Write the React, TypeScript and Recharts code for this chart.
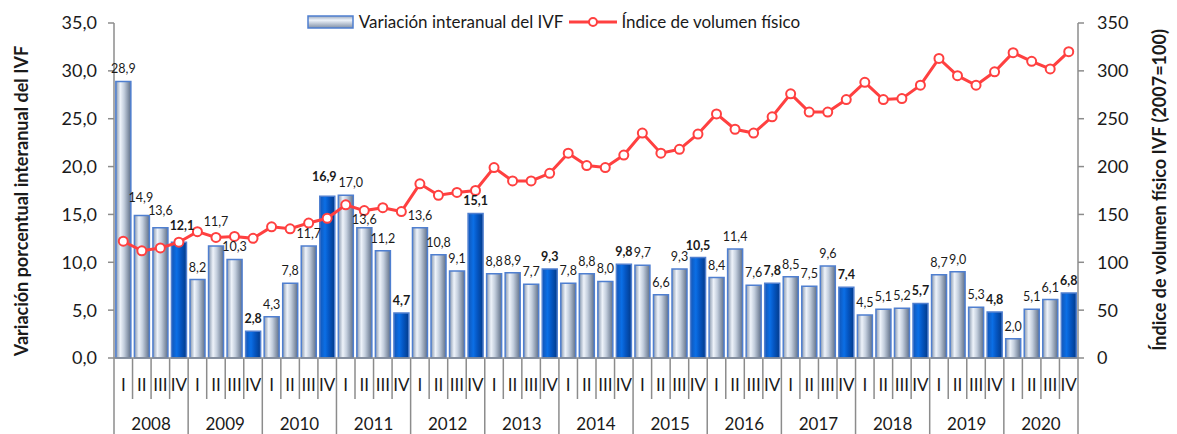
import { ComposedChart, Bar, Line, XAxis, YAxis, Cell, LabelList } from 'recharts'

const years = ['2008', '2009', '2010', '2011', '2012', '2013', '2014', '2015', '2016', '2017', '2018', '2019', '2020']
const quarters = ['I', 'II', 'III', 'IV']

// variación interanual (%)
const variacion = [
  28.9, 14.9, 13.6, 12.1,
  8.2, 11.7, 10.3, 2.8,
  4.3, 7.8, 11.7, 16.9,
  17.0, 13.6, 11.2, 4.7,
  13.6, 10.8, 9.1, 15.1,
  8.8, 8.9, 7.7, 9.3,
  7.8, 8.8, 8.0, 9.8,
  9.7, 6.6, 9.3, 10.5,
  8.4, 11.4, 7.6, 7.8,
  8.5, 7.5, 9.6, 7.4,
  4.5, 5.1, 5.2, 5.7,
  8.7, 9.0, 5.3, 4.8,
  2.0, 5.1, 6.1, 6.8,
]

// índice de volumen físico (2007=100)
const indice = [
  122, 112, 115, 121,
  132, 126, 127, 125,
  137, 135, 141, 146,
  160, 154, 157, 153,
  182, 170, 173, 175,
  199, 185, 185, 193,
  214, 201, 199, 212,
  235, 214, 218, 234,
  255, 239, 235, 252,
  276, 257, 257, 270,
  288, 270, 271, 285,
  313, 295, 285, 299,
  319, 310, 302, 320,
]

const leftTicks = [0, 5, 10, 15, 20, 25, 30, 35]
const rightTicks = [0, 50, 100, 150, 200, 250, 300, 350]

const W = 1177
const H = 434
const TOP = 23
const LEFT_W = 114
const RIGHT_W = 99
const XAXIS_H = 76
const PLOT_BOTTOM = H - XAXIS_H
const BAND = (W - LEFT_W - RIGHT_W) / variacion.length
const FONT = 'Lato, "Open Sans", sans-serif'
const TEXT = '#1a1a1a'
const AXIS = '#8c8c8c'

// small label nudges where labels would collide with neighbours or the line
const labelNudge: Record<number, [number, number]> = {
  1: [-1, -5], 2: [0, -5], 3: [3, -4], 5: [0, -12], 11: [-3, -7], 12: [5, 0], 13: [0, 4],
}

const data = variacion.map((v, i) => ({
  key: `${years[Math.floor(i / 4)]}-${quarters[i % 4]}`,
  variacion: v,
  indice: indice[i],
}))

const fmt = (v: number) => v.toFixed(1).replace('.', ',')

function QuarterTick(props: any) {
  const { x, payload } = props
  const [year, q] = String(payload.value).split('-')
  const left = x - BAND / 2
  const last = payload.value === data[data.length - 1].key
  return (
    <g>
      <line x1={left} x2={left} y1={PLOT_BOTTOM} y2={q === 'I' ? H : 399} stroke={AXIS} strokeWidth={1.5} />
      {last && <line x1={x + BAND / 2} x2={x + BAND / 2} y1={PLOT_BOTTOM} y2={H} stroke={AXIS} strokeWidth={1.5} />}
      <text x={x} y={391} textAnchor="middle" fontSize={17} fontFamily={FONT} fill={TEXT}>{q}</text>
      {q === 'II' && (
        <text x={x + BAND / 2} y={430} textAnchor="middle" fontSize={17} fontFamily={FONT} fill={TEXT}>{year}</text>
      )}
    </g>
  )
}

function BarLabel(props: any) {
  const { x, y, width, value, index } = props
  const bold = index % 4 === 3
  const [dx, dy] = labelNudge[index] || [0, 0]
  return (
    <text x={x + width / 2 + dx} y={y - 8 + dy} textAnchor="middle" fontSize={12.5} fontWeight={bold ? 700 : 400}
      fontFamily={FONT} fill={TEXT}>
      {fmt(value)}
    </text>
  )
}

function Legend() {
  return (
    <div style={{ position: 'absolute', left: 0, top: 11, width: W, display: 'flex', justifyContent: 'center',
      alignItems: 'center', fontFamily: FONT, fontSize: 17, color: TEXT, paddingRight: 70, boxSizing: 'border-box' }}>
      <svg width={48} height={20} style={{ marginRight: 4 }}>
        <defs>
          <linearGradient id="legSilver" x1="0" y1="0" x2="0" y2="1">
            <stop offset="0" stopColor="#9aa9bd" />
            <stop offset="0.35" stopColor="#eef3fa" />
            <stop offset="1" stopColor="#7f8fa6" />
          </linearGradient>
        </defs>
        <rect x={1} y={4} width={45} height={12} fill="url(#legSilver)" stroke="#4f7fd0" strokeWidth={1.5} />
      </svg>
      <span>Variación interanual del IVF</span>
      <svg width={50} height={20} style={{ margin: '0 3px 0 5px' }}>
        <line x1={1} x2={49} y1={10} y2={10} stroke="#ff4040" strokeWidth={3} />
        <circle cx={25} cy={10} r={4} fill="#fff" stroke="#ff4040" strokeWidth={2} />
      </svg>
      <span>Índice de volumen físico</span>
    </div>
  )
}

export default function App() {
  return (
    <div style={{ position: 'absolute', left: 0, top: 0, width: W, height: H, background: '#fff' }}>
      <ComposedChart width={W} height={H} data={data} barCategoryGap="10%"
        margin={{ top: TOP, right: 0, left: 0, bottom: 0 }}>
        <defs>
          <linearGradient id="silver" x1="0" y1="0" x2="1" y2="0">
            <stop offset="0" stopColor="#8797ad" />
            <stop offset="0.3" stopColor="#eef3fa" />
            <stop offset="0.55" stopColor="#c3cedd" />
            <stop offset="1" stopColor="#5f6f87" />
          </linearGradient>
          <linearGradient id="blue" x1="0" y1="0" x2="1" y2="0">
            <stop offset="0" stopColor="#1256b8" />
            <stop offset="0.35" stopColor="#0b6fe6" />
            <stop offset="0.6" stopColor="#0557c4" />
            <stop offset="1" stopColor="#023a8a" />
          </linearGradient>
        </defs>
        <XAxis dataKey="key" interval={0} height={XAXIS_H} tick={<QuarterTick />} tickLine={false}
          axisLine={{ stroke: AXIS, strokeWidth: 1.5 }} />
        <YAxis yAxisId="left" width={LEFT_W} domain={[0, 35]} ticks={leftTicks} tickFormatter={fmt}
          tick={{ fill: TEXT, fontSize: 18, fontFamily: FONT }} tickSize={6} tickMargin={11}
          axisLine={{ stroke: AXIS, strokeWidth: 1.5 }} tickLine={{ stroke: AXIS, strokeWidth: 1.5 }}
          label={{
            content: () => (
              <text x={22} y={201} dy={6} transform="rotate(-90 22 201)" textAnchor="middle" fontSize={18}
                fontWeight={700} fontFamily={FONT} fill={TEXT}>
                Variación porcentual interanual del IVF
              </text>
            ),
          }} />
        <YAxis yAxisId="right" orientation="right" width={RIGHT_W} domain={[0, 350]} ticks={rightTicks}
          tick={{ fill: TEXT, fontSize: 18, fontFamily: FONT }} tickSize={6} tickMargin={13}
          axisLine={{ stroke: AXIS, strokeWidth: 1.5 }} tickLine={{ stroke: AXIS, strokeWidth: 1.5 }}
          label={{
            content: () => (
              <text x={1160} y={190} dy={6} transform="rotate(-90 1160 190)" textAnchor="middle" fontSize={18}
                fontWeight={700} fontFamily={FONT} fill={TEXT}>
                Índice de volumen físico IVF (2007=100)
              </text>
            ),
          }} />
        <Bar yAxisId="left" dataKey="variacion" stroke="#4f7fd0" strokeWidth={1.5} isAnimationActive={false}>
          {data.map((_, i) => (
            <Cell key={i} fill={i % 4 === 3 ? 'url(#blue)' : 'url(#silver)'} />
          ))}
          <LabelList dataKey="variacion" content={<BarLabel />} />
        </Bar>
        <Line yAxisId="right" dataKey="indice" stroke="#ff4040" strokeWidth={3}
          dot={{ r: 4.5, fill: '#fff', stroke: '#ff4040', strokeWidth: 2 }} isAnimationActive={false} />
      </ComposedChart>
      <Legend />
    </div>
  )
}
